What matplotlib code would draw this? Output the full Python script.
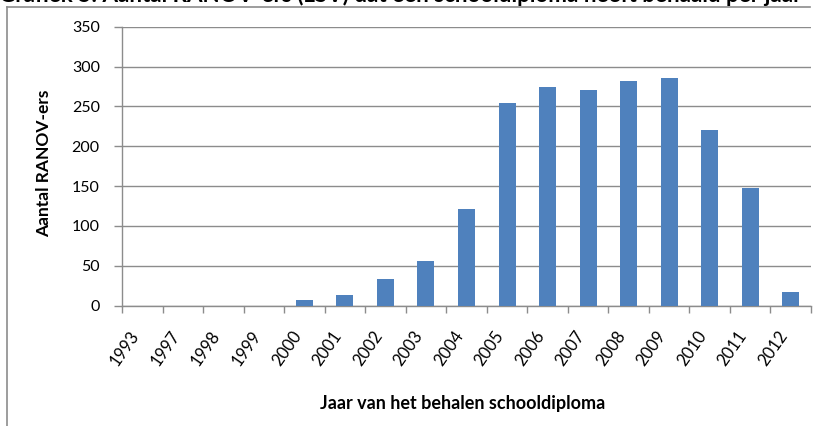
import matplotlib.pyplot as plt
from matplotlib.lines import Line2D
import matplotlib.transforms as mtrans
import numpy as np

# data
years = ['1993', '1997', '1998', '1999', '2000', '2001', '2002', '2003', '2004',
         '2005', '2006', '2007', '2008', '2009', '2010', '2011', '2012']
counts = [0, 0, 0, 0, 7, 14, 33, 56, 121, 254, 274, 271, 282, 286, 220, 148, 17]
y_ticks = [0, 50, 100, 150, 200, 250, 300, 350]

title = 'Grafiek 5: Aantal RANOV-ers (LSV) dat een schooldiploma heeft behaald per jaar'
y_label = 'Aantal RANOV-ers'
x_label = 'Jaar van het behalen schooldiploma'

plt.rcParams['font.family'] = ['Lato', 'DejaVu Sans']

W, H = 819, 426
fig = plt.figure(figsize=(W / 100, H / 100), dpi=100)
ax = fig.add_axes([122 / W, 1 - 305.7 / H, (811 - 122) / W, (305.7 - 26.7) / H])

grid_col = '#8c8c8c'
x = np.arange(len(years))
ax.bar(x, counts, width=0.42, color='#4f81bd', zorder=3)

ax.set_xlim(-0.5, len(years) - 0.5)
ax.set_ylim(0, 350)
ax.set_yticks(y_ticks)
ax.yaxis.grid(True, color=grid_col, linewidth=1, zorder=0)

ax.set_xticks(x)
ax.set_xticklabels(years, rotation=55, ha='right', va='top', fontsize=12)
shift = mtrans.ScaledTranslation(4 / 100, 0, fig.dpi_scale_trans)
for lab in ax.get_xticklabels():
    lab.set_transform(lab.get_transform() + shift)
ax.set_xticks(np.arange(-0.5, len(years)), minor=True)
ax.tick_params(axis='x', which='major', length=0, pad=16)
ax.tick_params(axis='x', which='minor', length=5, color=grid_col, width=1)
ax.tick_params(axis='y', length=6, color=grid_col, width=1, pad=10, labelsize=11.5)

for s in ['top', 'right']:
    ax.spines[s].set_visible(False)
for s in ['left', 'bottom']:
    ax.spines[s].set_color(grid_col)
    ax.spines[s].set_linewidth(1)

fig.text(44 / W, 1 - 163 / H, y_label, rotation=90, ha='center', va='center',
         fontsize=12.5, fontweight='bold')
fig.text(463 / W, 1 - 403 / H, x_label, ha='center', va='center', fontsize=13,
         fontweight='bold')

# clipped caption at the very top and the frame around the chart
fig.text(-1 / W, 1 - 2.5 / H, title, ha='left', va='baseline', fontsize=16.1,
         fontweight='bold')
fig.add_artist(Line2D([7 / W, 7 / W], [0, 1 - 7 / H], color=grid_col, lw=1.2,
                      transform=fig.transFigure))
fig.add_artist(Line2D([7 / W, 810 / W], [1 - 7 / H, 1 - 7 / H], color=grid_col, lw=1.2,
                      transform=fig.transFigure))

fig.savefig('out.png', dpi=100)
